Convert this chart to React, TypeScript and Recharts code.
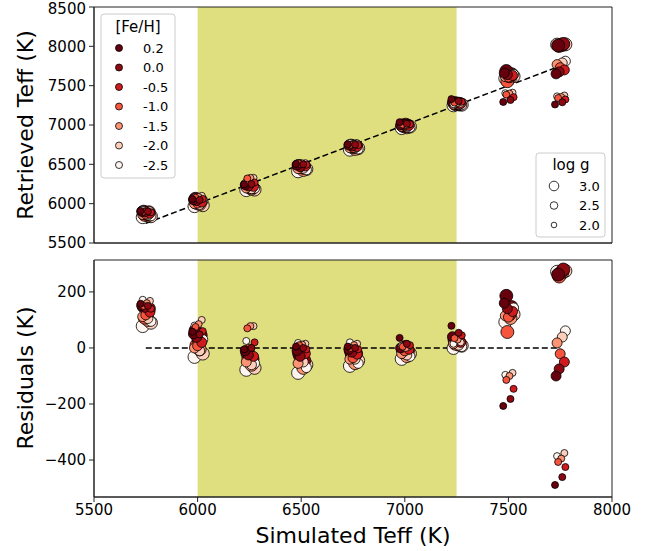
import React from "react";
import { ScatterChart, Scatter, XAxis, YAxis, ReferenceArea, ReferenceLine } from "recharts";

// simulated effective temperatures (K)
const simTeff = [5750, 6000, 6250, 6500, 6750, 7000, 7250, 7500, 7750];
const fehLabels = ["0.2", "0.0", "-0.5", "-1.0", "-1.5", "-2.0", "-2.5"];
const loggLabels = ["3.0", "2.5", "2.0"];

// residuals (retrieved - simulated, K); rows follow simTeff, columns follow fehLabels
const residLogg30 = [
  [148, 140, 120, 108, 100, 90, 78],
  [62, 45, 30, 10, -5, -20, -32],
  [-18, -40, -45, -35, -60, -71, -78],
  [-20, -45, -40, -30, -71, -60, -89],
  [-12, -20, -30, -25, -54, -45, -64],
  [-5, -11, 4, -15, -29, -20, -39],
  [29, 18, 22, 15, 12, 8, 0],
  [186, 146, 120, 57, 107, 120, 93],
  [262, 280, 270, 255, 268, 275, 272],
];
const residLogg25 = [
  [152, 145, 128, 118, 112, 105, 95],
  [50, 38, 20, 8, 0, -10, 30],
  [-10, -25, -30, -4, -50, -60, -55],
  [-10, -30, -20, -25, -55, -50, -70],
  [-5, -15, -22, -35, -40, -40, -55],
  [0, 5, -5, -10, -20, -25, -30],
  [40, 30, 20, 25, 15, 10, 5],
  [160, 140, 130, 110, 115, 125, 143],
  [-100, -75, -50, -21, 18, 39, 61],
];
const residLogg20 = [
  [158, 150, 140, 150, 160, 168, 172],
  [58, 48, 60, 75, 85, 100, 80],
  [-5, 0, 20, 70, 78, 78, 25],
  [5, 0, -5, 10, 12, 15, 18],
  [5, 0, -5, 0, 10, 15, 20],
  [36, 15, 10, 5, 0, 5, 8],
  [79, 54, 45, 35, 30, 20, 15],
  [-207, -182, -146, -114, -100, -89, -96],
  [-489, -461, -425, -407, -395, -375, -386],
];

// small x offsets (K) of each point around its simulated Teff
const jitterLogg30 = [-10, 15, 5, -5, 10, 25, -15];
const jitterLogg25 = [-20, -5, 20, 0, -15, 10, 25];
const jitterLogg20 = [-25, 10, 25, -10, 5, 20, -15];

const xTicks = [5500, 6000, 6500, 7000, 7500, 8000];
const teffTicks = [5500, 6000, 6500, 7000, 7500, 8000, 8500];
const residTicks = [-400, -200, 0, 200];
const shadeRange = [6000, 7250];
const oneToOne = [5750, 7750];

const fehColors = ["#67000d", "#8c0912", "#ce1b1e", "#f6553d", "#fc9474", "#fdceba", "#fff5f0"];
const dotRadius = [6.5, 5, 3.5];
const legendRadius = [4.8, 3.8, 2.8];
const font = "DejaVu Sans";

const residRows = [residLogg30, residLogg25, residLogg20];
const jitterRows = [jitterLogg30, jitterLogg25, jitterLogg20];

// metal-poor first so the darker points end up on top
const points = simTeff.flatMap((t, gi) =>
  residRows.flatMap((rows, li) =>
    rows[gi]
      .map((r, fi) => ({
        x: t + jitterRows[li][fi],
        teff: t + r,
        resid: r,
        li,
        fi,
      }))
      .reverse()
  )
);

const Dot = (props: any) => {
  const { cx, cy, payload } = props;
  if (cx == null || cy == null) return null;
  return (
    <circle
      cx={cx}
      cy={cy}
      r={dotRadius[payload.li]}
      fill={fehColors[payload.fi]}
      stroke="#000"
      strokeWidth={0.8}
    />
  );
};

const tickStyle = { fill: "#000", fontSize: 15, fontFamily: font };

export default function App() {
  return (
    <div style={{ position: "absolute", left: 0, top: 0, width: 660, height: 551, background: "#fff" }}>
      <div style={{ position: "absolute", left: 0, top: 0 }}>
        <ScatterChart width={660} height={252} margin={{ top: 7, right: 48, left: 0, bottom: 0 }}>
          <XAxis
            type="number"
            dataKey="x"
            domain={[5500, 8000]}
            ticks={xTicks}
            allowDataOverflow
            tick={false}
            height={9}
            tickSize={5}
            stroke="#222"
          />
          <YAxis
            type="number"
            dataKey="teff"
            domain={[5500, 8500]}
            ticks={teffTicks}
            allowDataOverflow
            width={94}
            tickSize={5}
            tickMargin={3}
            tick={tickStyle}
            stroke="#222"
          />
          <ReferenceArea x1={shadeRange[0]} x2={shadeRange[1]} fill="#dfdf80" fillOpacity={1} stroke="none" />
          <ReferenceLine
            segment={[
              { x: oneToOne[0], y: oneToOne[0] },
              { x: oneToOne[1], y: oneToOne[1] },
            ]}
            stroke="#000"
            strokeWidth={1.5}
            strokeDasharray="6 3"
          />
          <Scatter data={points} shape={Dot} isAnimationActive={false} />
          <ReferenceArea x1={5500} x2={8000} fill="none" stroke="#222" strokeWidth={1} />
        </ScatterChart>
      </div>
      <div style={{ position: "absolute", left: 0, top: 252 }}>
        <ScatterChart width={660} height={299} margin={{ top: 8, right: 48, left: 0, bottom: 0 }}>
          <XAxis
            type="number"
            dataKey="x"
            domain={[5500, 8000]}
            ticks={xTicks}
            allowDataOverflow
            height={54}
            tickSize={5}
            tickMargin={2}
            tick={tickStyle}
            stroke="#222"
          />
          <YAxis
            type="number"
            dataKey="resid"
            domain={[-532, 314]}
            ticks={residTicks}
            allowDataOverflow
            width={94}
            tickSize={5}
            tickMargin={3}
            tick={tickStyle}
            tickFormatter={(v: number) => (v < 0 ? "\u2212" + Math.abs(v) : String(v))}
            stroke="#222"
          />
          <ReferenceArea x1={shadeRange[0]} x2={shadeRange[1]} fill="#dfdf80" fillOpacity={1} stroke="none" />
          <ReferenceLine
            segment={[
              { x: oneToOne[0], y: 0 },
              { x: oneToOne[1], y: 0 },
            ]}
            stroke="#000"
            strokeWidth={1.5}
            strokeDasharray="6 3"
          />
          <Scatter data={points} shape={Dot} isAnimationActive={false} />
          <ReferenceArea x1={5500} x2={8000} fill="none" stroke="#222" strokeWidth={1} />
        </ScatterChart>
      </div>

      <svg
        width={660}
        height={551}
        style={{ position: "absolute", left: 0, top: 0, pointerEvents: "none" }}
        fontFamily={font}
      >
        {/* axis titles */}
        <text x={25} y={125} fontSize={22} textAnchor="middle" dominantBaseline="central" transform="rotate(-90 25 125)">
          Retrieved Teff (K)
        </text>
        <text x={25} y={378} fontSize={22} textAnchor="middle" dominantBaseline="central" transform="rotate(-90 25 378)">
          Residuals (K)
        </text>
        <text x={353} y={535} fontSize={22} textAnchor="middle" dominantBaseline="central">
          Simulated Teff (K)
        </text>

        {/* [Fe/H] legend */}
        <rect x={101} y={14} width={74} height={164} rx={3} fill="#fff" fillOpacity={0.8} stroke="#ccc" />
        <text x={138} y={27} fontSize={15} textAnchor="middle" dominantBaseline="central">
          [Fe/H]
        </text>
        {fehLabels.map((lab, i) => (
          <g key={lab}>
            <circle cx={119} cy={48 + i * 19.5} r={3.5} fill={fehColors[i]} stroke="#000" strokeWidth={0.8} />
            <text x={143} y={48 + i * 19.5} fontSize={13} dominantBaseline="central">
              {lab}
            </text>
          </g>
        ))}

        {/* log g legend */}
        <rect x={536} y={153} width={69} height={84} rx={3} fill="#fff" fillOpacity={0.8} stroke="#ccc" />
        <text x={571} y={165} fontSize={15} textAnchor="middle" dominantBaseline="central">
          log g
        </text>
        {loggLabels.map((lab, i) => (
          <g key={lab}>
            <circle cx={554} cy={186 + i * 19.5} r={legendRadius[i]} fill="#fff" stroke="#000" strokeWidth={0.8} />
            <text x={579} y={186 + i * 19.5} fontSize={13} dominantBaseline="central">
              {lab}
            </text>
          </g>
        ))}
      </svg>
    </div>
  );
}
